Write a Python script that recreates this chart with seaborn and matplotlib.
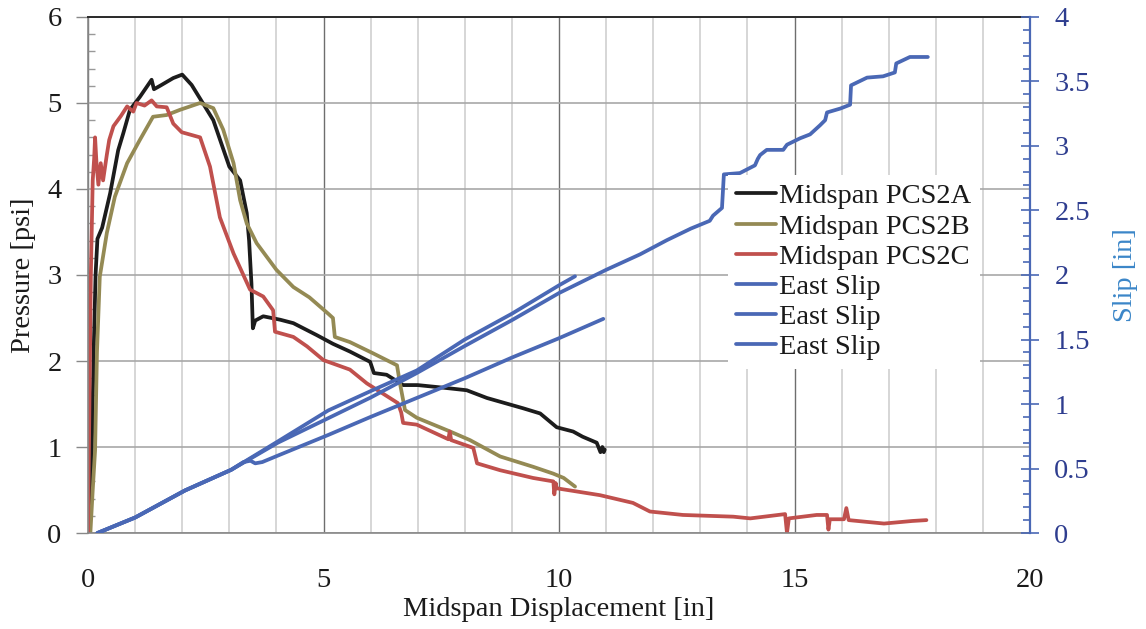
import numpy as np
import pandas as pd
import matplotlib
matplotlib.use("Agg")
import matplotlib.pyplot as plt
import seaborn as sns
from matplotlib.ticker import MultipleLocator

# --- data ---
# midspan pressure curves (x = midspan displacement [in], y = pressure [psi])
pcs2a_x = [0.0, 0.04, 0.08, 0.12, 0.16, 0.2, 0.3, 0.47, 0.64, 0.75, 0.89, 1.1, 1.35, 1.4,
           1.53, 1.81, 2.0, 2.2, 2.38, 2.66, 3.0, 3.23, 3.37, 3.42, 3.47, 3.5, 3.55, 3.72,
           4.08, 4.36, 4.86, 5.2, 5.56, 5.99, 6.07, 6.34, 6.69, 7.0, 7.54, 8.04, 8.47,
           9.24, 9.6, 9.95, 10.3, 10.5, 10.8, 10.88, 10.92, 10.95, 10.97]
pcs2a_p = [0.0, 0.05, 0.96, 2.1, 3.0, 3.42, 3.55, 3.95, 4.45, 4.65, 4.92, 5.07, 5.27, 5.16,
           5.2, 5.29, 5.33, 5.21, 5.05, 4.8, 4.26, 4.1, 3.72, 3.4, 2.9, 2.38, 2.47, 2.52,
           2.48, 2.44, 2.3, 2.2, 2.11, 1.99, 1.86, 1.84, 1.72, 1.72, 1.69, 1.66, 1.57,
           1.45, 1.39, 1.23, 1.18, 1.12, 1.05, 0.94, 1.0, 0.94, 0.97]

pcs2b_x = [0.05, 0.1, 0.15, 0.19, 0.25, 0.4, 0.57, 0.83, 1.1, 1.38, 1.67, 1.95, 2.38, 2.66,
           2.87, 3.09, 3.23, 3.37, 3.58, 4.0, 4.36, 4.7, 5.1, 5.2, 5.24, 5.56, 6.05, 6.56,
           6.62, 6.73, 6.98, 7.69, 8.11, 8.75, 9.45, 9.88, 10.1, 10.34]
pcs2b_p = [0.0, 0.5, 0.96, 2.1, 2.98, 3.49, 3.91, 4.3, 4.57, 4.84, 4.86, 4.92, 5.0, 4.94,
           4.69, 4.3, 3.87, 3.6, 3.37, 3.06, 2.86, 2.74, 2.55, 2.5, 2.28, 2.22, 2.09, 1.95,
           1.75, 1.43, 1.34, 1.18, 1.08, 0.89, 0.77, 0.69, 0.64, 0.54]

pcs2c_x = [0.0, 0.03, 0.06, 0.1, 0.13, 0.15, 0.18, 0.22, 0.27, 0.32, 0.4, 0.45, 0.54, 0.7,
           0.83, 0.96, 1.03, 1.2, 1.35, 1.46, 1.67, 1.81, 1.99, 2.38, 2.59, 2.8, 3.09, 3.44,
           3.72, 3.93, 3.97, 4.36, 4.65, 5.0, 5.56, 5.92, 6.58, 6.65, 6.69, 6.98, 7.65,
           7.68, 7.71, 8.18, 8.26, 8.75, 9.45, 9.88, 9.9, 9.93, 9.95, 10.87, 11.57, 11.93,
           12.63, 13.7, 14.06, 14.8, 14.84, 14.88, 15.47, 15.69, 15.72, 15.75, 16.05, 16.1,
           16.15, 16.9, 17.5, 17.8]
pcs2c_p = [0.0, 1.5, 3.0, 4.1, 4.35, 4.6, 4.3, 4.05, 4.3, 4.1, 4.4, 4.57, 4.73, 4.85,
           4.96, 4.9, 5.0, 4.97, 5.03, 4.96, 4.95, 4.76, 4.66, 4.6, 4.26, 3.67, 3.25, 2.83,
           2.75, 2.59, 2.34, 2.28, 2.17, 2.01, 1.9, 1.74, 1.51, 1.4, 1.28, 1.26, 1.09,
           1.18, 1.08, 0.99, 0.81, 0.73, 0.64, 0.6, 0.45, 0.58, 0.52, 0.44, 0.35, 0.25,
           0.21, 0.19, 0.17, 0.22, 0.0, 0.17, 0.21, 0.21, 0.04, 0.16, 0.16, 0.29,
           0.15, 0.11, 0.14, 0.15]

# east slip curves (right axis, slip [in])
slip1_x = [0.2, 1.0, 2.06, 3.04, 4.03, 5.1, 6.0, 6.98, 8.0, 9.0, 10.0, 10.34]
slip1_s = [0.0, 0.12, 0.33, 0.49, 0.71, 0.95, 1.1, 1.26, 1.5, 1.7, 1.92, 1.99]

slip2_x = [0.2, 1.0, 2.06, 3.04, 4.03, 5.1, 6.0, 6.98, 8.0, 9.0, 10.0, 11.0, 11.72, 12.29,
           12.8, 13.2, 13.27, 13.46, 13.5, 13.84, 14.16, 14.22, 14.27, 14.41, 14.76, 14.84,
           15.12, 15.33, 15.54, 15.65, 15.69, 15.97, 16.18, 16.2, 16.54, 16.88, 17.13,
           17.16, 17.45, 17.83]
slip2_s = [0.0, 0.12, 0.33, 0.49, 0.7, 0.89, 1.05, 1.24, 1.45, 1.65, 1.86, 2.04, 2.16, 2.27,
           2.36, 2.42, 2.46, 2.52, 2.78, 2.79, 2.85, 2.9, 2.93, 2.97, 2.97, 3.01,
           3.06, 3.09, 3.16, 3.2, 3.26, 3.29, 3.32, 3.47, 3.53, 3.54, 3.57,
           3.64, 3.69, 3.69]

slip3_x = [0.2, 1.0, 2.06, 3.04, 3.3, 3.45, 3.55, 3.7, 4.03, 5.1, 6.0, 7.2, 8.0, 9.0, 10.0, 10.94]
slip3_s = [0.0, 0.12, 0.33, 0.49, 0.55, 0.56, 0.54, 0.55, 0.6, 0.76, 0.9, 1.08, 1.2, 1.36, 1.51, 1.66]

pressure_series = [("Midspan PCS2A", pcs2a_x, pcs2a_p, "#1c1c1c"),
                   ("Midspan PCS2B", pcs2b_x, pcs2b_p, "#948a54"),
                   ("Midspan PCS2C", pcs2c_x, pcs2c_p, "#c0504d")]
slip_series = [("East Slip", slip1_x, slip1_s),
               ("East Slip", slip2_x, slip2_s),
               ("East Slip", slip3_x, slip3_s)]

blue = "#4a68b5"

sns.set_theme(style="white")
plt.rcParams["font.family"] = ["Liberation Serif", "DejaVu Serif"]

fig = plt.figure(figsize=(11.46, 6.29), dpi=100)
ax = fig.add_axes([0.0768, 0.1526, 0.822, 0.8204])
ax2 = ax.twinx()

for name, xs, ys, col in pressure_series:
    df = pd.DataFrame({"disp": xs, "val": ys})
    sns.lineplot(data=df, x="disp", y="val", ax=ax, color=col, lw=2.7,
                 sort=False, estimator=None, label=name, legend=False)

for name, xs, ys in slip_series:
    df = pd.DataFrame({"disp": xs, "val": ys})
    sns.lineplot(data=df, x="disp", y="val", ax=ax2, color=blue, lw=2.7,
                 sort=False, estimator=None, label=name, legend=False)

# axes limits and ticks
ax.set_xlim(0, 20)
ax.set_ylim(0, 6)
ax2.set_ylim(0, 4)
ax.xaxis.set_major_locator(MultipleLocator(5))
ax.xaxis.set_minor_locator(MultipleLocator(1))
ax.yaxis.set_major_locator(MultipleLocator(1))
ax.yaxis.set_minor_locator(MultipleLocator(0.2))
ax2.yaxis.set_minor_locator(MultipleLocator(0.1))
ax2.set_yticks([0, 0.5, 1, 1.5, 2, 2.5, 3, 3.5, 4])
ax2.set_yticklabels(["0", "0.5", "1", "1.5", "2", "2.5", "3", "3.5", "4"])

ax.grid(True, which="minor", axis="x", color="#cfcfcf", lw=1.2)
ax.grid(True, which="major", axis="x", color="#6e6e6e", lw=1.0)
ax.grid(True, which="major", axis="y", color="#a8a8a8", lw=1.2)
ax.set_axisbelow(True)

fs = 20.5
ax.tick_params(axis="x", which="major", direction="out", length=7, width=1,
               color="#888888", pad=18, labelsize=fs, labelcolor="#1a1a1a")
ax.tick_params(axis="x", which="minor", direction="in", length=4, width=1, color="#999999")
ax.tick_params(axis="y", which="major", direction="out", length=9, width=1,
               color="#888888", pad=10, labelsize=fs, labelcolor="#1a1a1a")
ax.tick_params(axis="y", which="minor", direction="in", length=5, width=1, color="#999999")
ax2.tick_params(axis="y", which="major", direction="inout", length=13, width=1.2,
                color=blue, pad=11, labelsize=fs, labelcolor="#2e3d8f")
ax2.tick_params(axis="y", which="minor", direction="in", length=5, width=1.2, color=blue)

for s in ["left", "bottom"]:
    ax.spines[s].set_color("#888888")
    ax.spines[s].set_linewidth(1.2)
ax.spines["top"].set_color("#2a2a2a")
ax.spines["top"].set_linewidth(1.4)
ax.spines["right"].set_visible(False)
for s in ["left", "bottom", "top"]:
    ax2.spines[s].set_visible(False)
ax2.spines["right"].set_color(blue)
ax2.spines["right"].set_linewidth(1.6)

ax.set_xlabel("Midspan Displacement [in]", fontsize=fs, color="#1a1a1a", labelpad=3)
ax.set_ylabel("Pressure [psi]", fontsize=fs, color="#1a1a1a", labelpad=8)
ax2.set_ylabel("Slip [in]", fontsize=fs, color="#3b86c8")
ax2.yaxis.set_label_coords(1.088, 0.5)

h1, l1 = ax.get_legend_handles_labels()
h2, l2 = ax2.get_legend_handles_labels()
leg = ax2.legend(h1 + h2, l1 + l2, loc="upper left", bbox_to_anchor=(0.679, 0.694),
                 borderaxespad=0, borderpad=0.3, handlelength=1.4, handletextpad=0.1,
                 labelspacing=0.15, fontsize=fs, frameon=True, fancybox=False,
                 framealpha=1, facecolor="white", edgecolor="none")
for t in leg.get_texts():
    t.set_color("#1a1a1a")

plt.savefig("out.png", dpi=100)
